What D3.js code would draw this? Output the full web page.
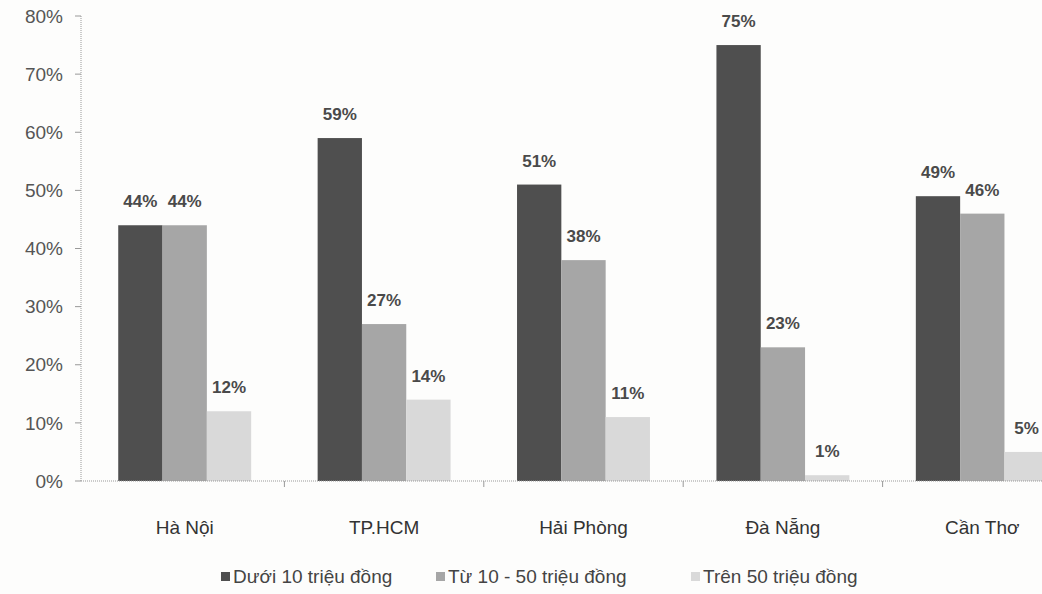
<!DOCTYPE html>
<html lang="vi">
<head>
<meta charset="utf-8">
<title>Bar chart</title>
<script src="https://d3js.org/d3.v7.min.js"></script>
<style>
body{
  margin:0;
  background:#fdfdfc;
}
svg text{
  font-family: Arial, "Liberation Sans", sans-serif;
}
.ylab text{
  font-size:19px;
  fill:#555;
}
.xlab text{
  font-size:19px;
  fill:#333;
}
.val{
  font-size:17px;
  font-weight:bold;
  fill:#4a4a4a;
  text-anchor:middle;
}
.legend text{
  font-size:19px;
  fill:#444;
}
</style>
</head>
<body>
<div id="chart"></div>
<script>
const cities = ["Hà Nội", "TP.HCM", "Hải Phòng", "Đà Nẵng", "Cần Thơ"];
const seriesNames = ["Dưới 10 triệu đồng", "Từ 10 - 50 triệu đồng", "Trên 50 triệu đồng"];
const under10 = [44, 59, 51, 75, 49];
const from10to50 = [44, 27, 38, 23, 46];
const over50 = [12, 14, 11, 1, 5];
const yTicks = [0, 10, 20, 30, 40, 50, 60, 70, 80];

const colors = ["#4f4f4f", "#a6a6a6", "#d9d9d9"];
const series = [under10, from10to50, over50];

var W = 1042, H = 594;
var svg = d3.select("#chart").append("svg")
  .attr("width", W).attr("height", H);

// plot runs past the right edge (scan is cropped there)
var x = d3.scaleBand().domain(cities).range([85, 1082]);
var groupW = x.bandwidth() * 2 / 3;
var xs = d3.scaleBand().domain(d3.range(3)).range([0, groupW]);
var y = d3.scaleLinear().domain([0, 80]).range([481, 16]);
var axisX = 81;
var groupOff = (x.bandwidth() - groupW) / 2;

// y axis
var ya = svg.append("g").attr("class", "ylab");
ya.append("line")
  .attr("x1", axisX).attr("x2", axisX)
  .attr("y1", y(80)).attr("y2", y(0))
  .attr("stroke", "#999").attr("stroke-dasharray", "1,1");
yTicks.forEach(function(t){
  ya.append("line")
    .attr("x1", axisX - 6).attr("x2", axisX)
    .attr("y1", y(t)).attr("y2", y(t))
    .attr("stroke", "#999");
  ya.append("text")
    .attr("x", 63).attr("y", y(t)).attr("dy", "0.35em")
    .attr("text-anchor", "end")
    .text(t + "%");
});

// bars
cities.forEach(function(c, i){
  series.forEach(function(s, j){
    var bx = x(c) + groupOff + xs(j);
    svg.append("rect")
      .attr("x", bx).attr("y", y(s[i]))
      .attr("width", xs.bandwidth())
      .attr("height", y(0) - y(s[i]))
      .attr("fill", colors[j]);
    svg.append("text")
      .attr("class", "val")
      .attr("x", bx + xs.bandwidth() / 2)
      .attr("y", y(s[i]) - 18)
      .text(s[i] + "%");
  });
});

// x axis
var xa = svg.append("g").attr("class", "xlab");
xa.append("line")
  .attr("x1", axisX).attr("x2", W)
  .attr("y1", y(0)).attr("y2", y(0))
  .attr("stroke", "#999").attr("stroke-dasharray", "1,1");
cities.forEach(function(c, i){
  if (i > 0) {
    xa.append("line")
      .attr("x1", x(c)).attr("x2", x(c))
      .attr("y1", y(0)).attr("y2", y(0) + 6)
      .attr("stroke", "#999");
  }
  xa.append("text")
    .attr("x", x(c) + x.bandwidth() / 2)
    .attr("y", 534)
    .attr("text-anchor", "middle")
    .text(c);
});

// legend
var legX = [221, 436, 691];
var lg = svg.append("g").attr("class", "legend");
seriesNames.forEach(function(n, j){
  lg.append("rect")
    .attr("x", legX[j]).attr("y", 572)
    .attr("width", 9).attr("height", 9)
    .attr("fill", colors[j]);
  lg.append("text")
    .attr("x", legX[j] + 12).attr("y", 583)
    .text(n);
});
</script>
</body>
</html>
